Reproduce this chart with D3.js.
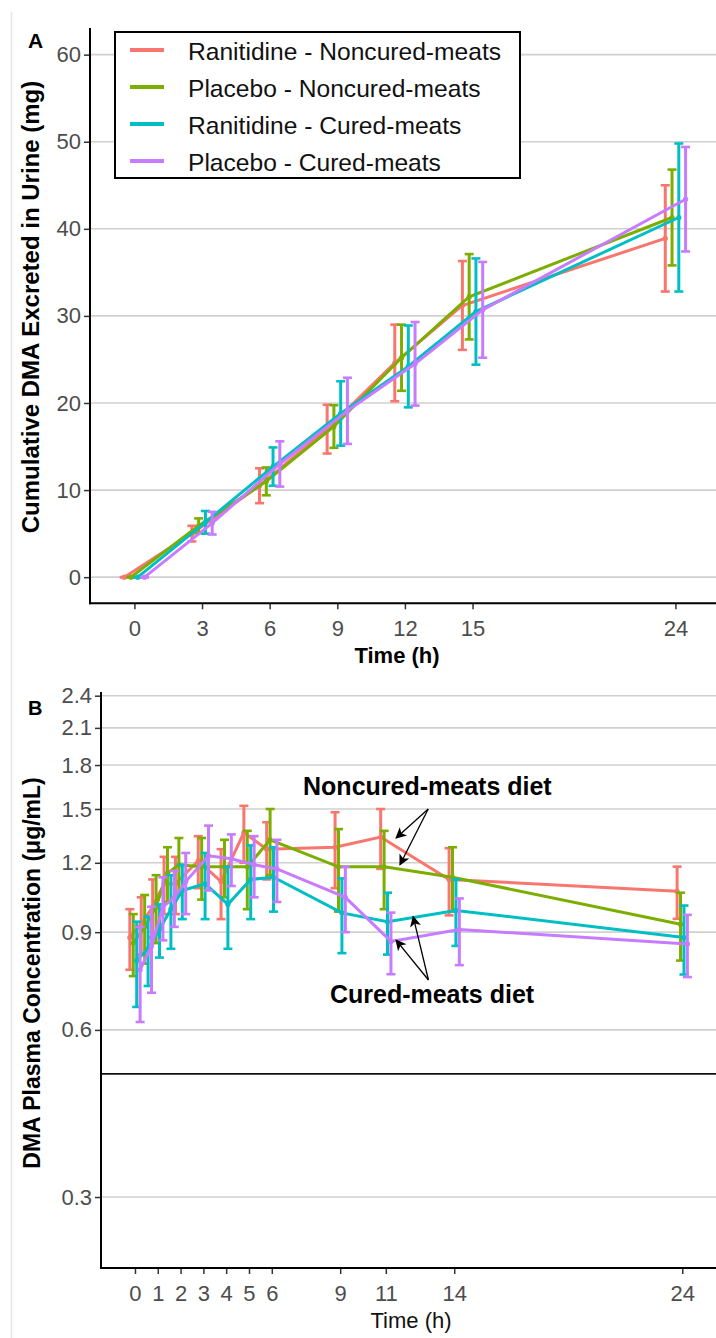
<!DOCTYPE html>
<html>
<head>
<meta charset="utf-8">
<script src="https://cdn.jsdelivr.net/npm/d3@7"></script>
<style>
  body { margin: 0; background: #fff; }
  svg { display: block; }
  text { font-family: "Liberation Sans", Arial, sans-serif; }
</style>
</head>
<body>
<svg id="chart" width="716" height="1338"></svg>
<script>
// ---- Series definitions ----
const seriesNames = [
  "Ranitidine - Noncured-meats",
  "Placebo - Noncured-meats",
  "Ranitidine - Cured-meats",
  "Placebo - Cured-meats"
];
const seriesColors = ["#F8766D", "#7CAE00", "#00BFC4", "#C77CFF"];

// ---- Panel A: cumulative DMA excreted in urine (mg), mean and SD ----
const urineTimes = [0, 3, 6, 9, 12, 15, 24];
const urineRanNon    = [0, 5.0, 10.5, 17.0, 24.6, 31.2, 38.9];
const urineRanNonSD  = [0, 0.9, 2.0, 2.8, 4.4, 5.1, 6.1];
const urinePlaNon    = [0, 5.9, 11.0, 17.3, 25.2, 32.2, 41.3];
const urinePlaNonSD  = [0, 0.85, 1.6, 2.45, 3.8, 4.9, 5.5];
const urineRanCur    = [0, 6.3, 12.7, 18.8, 24.2, 30.5, 41.3];
const urineRanCurSD  = [0, 1.3, 2.2, 3.7, 4.7, 6.1, 8.5];
const urinePlaCur    = [0, 6.2, 13.0, 19.1, 24.5, 30.7, 43.4];
const urinePlaCurSD  = [0, 1.3, 2.6, 3.8, 4.8, 5.5, 6.0];
const urineTicksX = [0, 3, 6, 9, 12, 15, 24];
const urineTicksY = [0, 10, 20, 30, 40, 50, 60];

// ---- Panel B: DMA plasma concentration (ug/mL), mean and SD ----
const plasmaTimes = [0, 0.5, 1, 1.5, 2, 3, 4, 5, 6, 9, 11, 14, 24];
const plasmaRanNon   = [0.88, 0.93, 1.00, 1.10, 1.10, 1.21, 1.11, 1.36, 1.27, 1.28, 1.335, 1.12, 1.066];
const plasmaRanNonSD = [0.11, 0.11, 0.12, 0.13, 0.13, 0.13, 0.16, 0.16, 0.15, 0.20, 0.165, 0.155, 0.115];
const plasmaPlaNon   = [0.86, 0.92, 1.00, 1.15, 1.19, 1.18, 1.18, 1.18, 1.32, 1.18, 1.18, 1.13, 0.93];
const plasmaPlaNonSD = [0.11, 0.13, 0.14, 0.13, 0.14, 0.15, 0.14, 0.19, 0.18, 0.20, 0.19, 0.15, 0.13];
const plasmaRanCur   = [0.80, 0.84, 0.91, 0.99, 1.07, 1.10, 1.01, 1.12, 1.13, 0.975, 0.94, 0.985, 0.88];
const plasmaRanCurSD = [0.14, 0.12, 0.10, 0.15, 0.12, 0.15, 0.17, 0.17, 0.15, 0.15, 0.12, 0.135, 0.125];
const plasmaPlaCur   = [0.77, 0.85, 1.00, 1.04, 1.11, 1.235, 1.22, 1.19, 1.17, 1.04, 0.866, 0.91, 0.857];
const plasmaPlaCurSD = [0.15, 0.15, 0.13, 0.12, 0.14, 0.165, 0.13, 0.15, 0.15, 0.14, 0.11, 0.125, 0.11];
const plasmaTicksX = [0, 1, 2, 3, 4, 5, 6, 9, 11, 14, 24];
const plasmaTicksY = [0.3, 0.6, 0.9, 1.2, 1.5, 1.8, 2.1, 2.4];
const plasmaRefLine = 0.5;

// Diet annotations in panel B (time, concentration)
const noncuredLabel = { text: "Noncured-meats diet", t: 7.37, v: 1.59 };
const curedLabel = { text: "Cured-meats diet", t: 8.55, v: 0.671 };
const noncuredArrows = [
  { t0: 12.86, v0: 1.50, t1: 11.45, v1: 1.33 },
  { t0: 12.86, v0: 1.50, t1: 11.62, v1: 1.19 }
];
const curedArrows = [
  { t0: 12.87, v0: 0.738, t1: 12.2, v1: 0.96 },
  { t0: 12.87, v0: 0.738, t1: 11.45, v1: 0.871 }
];

// ---- Build the per-series tables ----
const urineSeries = [
  [urineRanNon, urineRanNonSD], [urinePlaNon, urinePlaNonSD],
  [urineRanCur, urineRanCurSD], [urinePlaCur, urinePlaCurSD]
].map(([m, s], i) => ({
  i, pts: urineTimes.map((t, k) => ({ t, m: m[k], sd: s[k] }))
}));
const plasmaSeries = [
  [plasmaRanNon, plasmaRanNonSD], [plasmaPlaNon, plasmaPlaNonSD],
  [plasmaRanCur, plasmaRanCurSD], [plasmaPlaCur, plasmaPlaCurSD]
].map(([m, s], i) => ({
  i, pts: plasmaTimes.map((t, k) => ({ t, m: m[k], sd: s[k] }))
}));

const svg = d3.select("#chart");
svg.append("rect").attr("width", 716).attr("height", 1338).attr("fill", "#fff");

// thin page margin rule on the left
svg.append("line").attr("x1", 11.5).attr("x2", 11.5).attr("y1", 12).attr("y2", 1338)
  .attr("stroke", "#e4e4e4").attr("stroke-width", 1.5);

svg.append("defs").append("marker")
  .attr("id", "arrowhead").attr("viewBox", "0 0 10 10")
  .attr("refX", 9).attr("refY", 5)
  .attr("markerWidth", 14).attr("markerHeight", 11)
  .attr("markerUnits", "userSpaceOnUse")
  .attr("orient", "auto")
  .append("path").attr("d", "M0,0 L10,5 L0,10 L2.5,5 Z").attr("fill", "#000");

function drawPanel(opt) {
  const { x, y, series, dodge, ticksX, ticksY, fmtY, xLeft, xRight, yTop, yBottom } = opt;
  const g = svg.append("g");

  // horizontal gridlines
  g.selectAll(".grid").data(ticksY).join("line")
    .attr("x1", xLeft).attr("x2", xRight)
    .attr("y1", d => y(d)).attr("y2", d => y(d))
    .attr("stroke", "#d0d0d0").attr("stroke-width", 1.6);

  if (opt.refLine != null) {
    g.append("line")
      .attr("x1", xLeft).attr("x2", xRight)
      .attr("y1", y(opt.refLine)).attr("y2", y(opt.refLine))
      .attr("stroke", "#111").attr("stroke-width", 1.8);
  }

  // axes
  const ax = g.append("g").attr("transform", `translate(0,${yBottom})`)
    .call(d3.axisBottom(x).tickValues(ticksX).tickSize(6).tickSizeOuter(0).tickPadding(11));
  const ay = g.append("g").attr("transform", `translate(${xLeft},0)`)
    .call(d3.axisLeft(y).tickValues(ticksY).tickFormat(fmtY).tickSize(6).tickSizeOuter(0).tickPadding(3));
  [ax, ay].forEach(a => {
    a.select(".domain").remove();
    a.selectAll(".tick line").attr("stroke", "#333").attr("stroke-width", 1.5);
    a.selectAll(".tick text").attr("fill", "#4d4d4d").style("font-size", "22px");
  });
  g.append("line").attr("x1", xLeft).attr("x2", xLeft).attr("y1", yTop).attr("y2", yBottom + 1)
    .attr("stroke", "#000").attr("stroke-width", 2);
  g.append("line").attr("x1", xLeft - 1).attr("x2", xRight).attr("y1", yBottom).attr("y2", yBottom)
    .attr("stroke", "#000").attr("stroke-width", 2);

  // series: lines, error bars, points
  const line = d3.line().x(d => x(d.t + dodge[d.s])).y(d => y(d.m));
  series.forEach(s => {
    const col = seriesColors[s.i];
    const pts = s.pts.map(p => ({ ...p, s: s.i }));
    const sg = g.append("g");
    sg.append("path").datum(pts).attr("d", line)
      .attr("fill", "none").attr("stroke", col).attr("stroke-width", 3);
    const eb = sg.selectAll(".eb").data(pts).join("g");
    eb.append("line")
      .attr("x1", d => x(d.t + dodge[d.s])).attr("x2", d => x(d.t + dodge[d.s]))
      .attr("y1", d => y(d.m - d.sd)).attr("y2", d => y(d.m + d.sd))
      .attr("stroke", col).attr("stroke-width", 3);
    [-1, 1].forEach(sign => {
      eb.append("line")
        .attr("x1", d => x(d.t + dodge[d.s]) - 4.5).attr("x2", d => x(d.t + dodge[d.s]) + 4.5)
        .attr("y1", d => y(d.m + sign * d.sd)).attr("y2", d => y(d.m + sign * d.sd))
        .attr("stroke", col).attr("stroke-width", 2.6);
    });
    sg.selectAll(".pt").data(pts).join("circle")
      .attr("cx", d => x(d.t + dodge[d.s])).attr("cy", d => y(d.m))
      .attr("r", 2.6).attr("fill", col);
  });
  return g;
}

// ---- Panel A ----
const xA = d3.scaleLinear().domain([-1.97, 25.8]).range([90, 716]);
const yA = d3.scaleLinear().domain([-3, 63.06]).range([603.3, 28]);
drawPanel({
  x: xA, y: yA, series: urineSeries, dodge: [-0.45, -0.15, 0.15, 0.45],
  ticksX: urineTicksX, ticksY: urineTicksY, fmtY: d3.format("d"),
  xLeft: 90, xRight: 716, yTop: 28, yBottom: 603.3
});

// legend
const leg = svg.append("g");
leg.append("rect").attr("x", 115).attr("y", 32).attr("width", 405).attr("height", 146)
  .attr("fill", "#fff").attr("stroke", "#000").attr("stroke-width", 2);
seriesNames.forEach((name, i) => {
  const cy = 51 + i * 37;
  leg.append("line").attr("x1", 130).attr("x2", 164).attr("y1", cy - 1).attr("y2", cy - 1)
    .attr("stroke", seriesColors[i]).attr("stroke-width", 4);
  leg.append("text").attr("x", 188).attr("y", cy + 8.5).text(name)
    .attr("fill", "#111").style("font-size", "24.6px");
});

svg.append("text").attr("x", 28).attr("y", 48).text("A")
  .style("font-size", "21px").style("font-weight", "bold");
svg.append("text").attr("transform", "translate(39,307) rotate(-90)")
  .attr("text-anchor", "middle").text("Cumulative DMA Excreted in Urine (mg)")
  .style("font-size", "24px").style("font-weight", "bold");
svg.append("text").attr("x", 397).attr("y", 663).attr("text-anchor", "middle")
  .text("Time (h)").style("font-size", "22px").style("font-weight", "bold");

// ---- Panel B ----
const xB = d3.scaleLinear().domain([-1.49, 25.48]).range([101, 716]);
const yB = d3.scaleLog().domain([0.2235, 2.437]).range([1268, 692]);
drawPanel({
  x: xB, y: yB, series: plasmaSeries, dodge: [-0.225, -0.075, 0.075, 0.225],
  ticksX: plasmaTicksX, ticksY: plasmaTicksY, fmtY: d3.format(".1f"),
  xLeft: 101, xRight: 716, yTop: 692, yBottom: 1268, refLine: plasmaRefLine
});

svg.append("text").attr("x", 28).attr("y", 715).text("B")
  .style("font-size", "20px").style("font-weight", "bold");
svg.append("text").attr("transform", "translate(40,973) rotate(-90)")
  .attr("text-anchor", "middle").text("DMA Plasma Concentration (\u03bcg/mL)")
  .style("font-size", "23px").style("font-weight", "bold");
svg.append("text").attr("x", 411).attr("y", 1328).attr("text-anchor", "middle")
  .text("Time (h)").attr("fill", "#111").style("font-size", "22px");

// diet annotations
[noncuredLabel, curedLabel].forEach(l => {
  svg.append("text").attr("x", xB(l.t)).attr("y", yB(l.v)).text(l.text)
    .style("font-size", "25px").style("font-weight", "bold");
});
[...noncuredArrows, ...curedArrows].forEach(a => {
  svg.append("line")
    .attr("x1", xB(a.t0)).attr("y1", yB(a.v0))
    .attr("x2", xB(a.t1)).attr("y2", yB(a.v1))
    .attr("stroke", "#000").attr("stroke-width", 1.3)
    .attr("marker-end", "url(#arrowhead)");
});
</script>
</body>
</html>
